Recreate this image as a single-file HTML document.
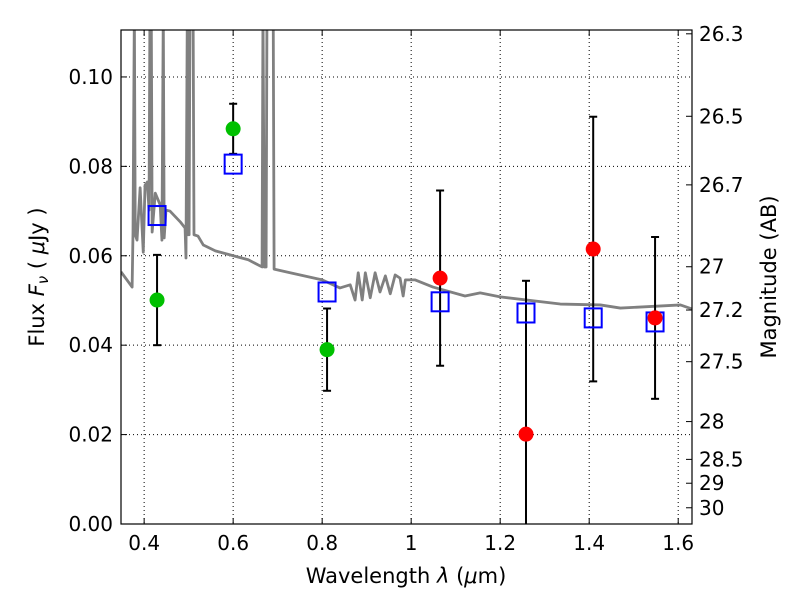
<!DOCTYPE html>
<html><head><meta charset="utf-8">
<style>
body{margin:0;background:#fff;}
svg text{font-family:"DejaVu Sans","Liberation Sans",sans-serif;fill:#000;}
</style></head>
<body>
<svg id="chart" width="800" height="600" xmlns="http://www.w3.org/2000/svg"></svg>
<script>
const xTicks=[0.4,0.6,0.8,1.0,1.2,1.4,1.6];
const xTickLabels=["0.4","0.6","0.8","1","1.2","1.4","1.6"];
const yTicks=[0,0.02,0.04,0.06,0.08,0.10];
const yTickLabels=["0.00","0.02","0.04","0.06","0.08","0.10"];
const magTicks=[26.3,26.5,26.7,27,27.2,27.5,28,28.5,29,30];
const magLabels=["26.3","26.5","26.7","27","27.2","27.5","28","28.5","29","30"];
const specWave=[0.348,0.373,0.375,0.378,0.380,0.384,0.391,0.398,0.402,0.407,0.411,0.413,0.416,0.418,0.425,0.436,0.440,0.443,0.445,0.449,0.458,0.481,0.492,0.494,0.497,0.499,0.501,0.503,0.510,0.512,0.521,0.533,0.560,0.593,0.634,0.665,0.667,0.670,0.674,0.676,0.690,0.692,0.728,0.800,0.840,0.863,0.874,0.881,0.890,0.897,0.908,0.919,0.930,0.942,0.953,0.964,0.975,0.982,0.987,1.009,1.049,1.121,1.155,1.200,1.335,1.425,1.470,1.605,1.631];
const specFlux=[0.0564,0.0530,0.0653,0.115,0.0647,0.0635,0.0752,0.0608,0.0758,0.0765,0.0702,0.115,0.115,0.0653,0.0740,0.0714,0.0635,0.115,0.0640,0.0702,0.0700,0.0676,0.0662,0.0595,0.115,0.0647,0.0647,0.115,0.115,0.0647,0.0644,0.0624,0.0611,0.0602,0.0591,0.0575,0.115,0.0575,0.0575,0.115,0.115,0.0570,0.0562,0.0546,0.0528,0.0535,0.0501,0.0562,0.0501,0.0562,0.0506,0.0562,0.0519,0.0555,0.0515,0.0557,0.0550,0.0510,0.0546,0.0546,0.0530,0.0510,0.0517,0.0508,0.0492,0.0490,0.0483,0.0490,0.0481];
const greenWave=[0.429,0.600,0.811];
const greenFlux=[0.0501,0.0884,0.0390];
const greenErr=[0.0101,0.0056,0.0092];
const redWave=[1.065,1.258,1.409,1.548];
const redFlux=[0.0550,0.0201,0.0615,0.0461];
const redErr=[0.0196,0.0343,0.0296,0.0181];
const modelWave=[0.429,0.600,0.811,1.065,1.258,1.409,1.548];
const modelFlux=[0.0690,0.0805,0.0519,0.0497,0.0472,0.0461,0.0452];

const L=121,R=692,T=30,B=524,x0=0.348,x1=1.631,y0=0,y1=0.1105;
const sx=v=>L+(v-x0)/(x1-x0)*(R-L);
const sy=v=>B-(v-y0)/(y1-y0)*(B-T);
const svg=document.getElementById('chart');
const NS="http://www.w3.org/2000/svg";
function mk(t,a,p){const e=document.createElementNS(NS,t);for(const k in a)e.setAttribute(k,a[k]);(p||svg).appendChild(e);return e;}

const defs=mk('defs',{});
const cp=mk('clipPath',{id:'clip'},defs);mk('rect',{x:L,y:T,width:R-L,height:B-T},cp);

xTicks.forEach(v=>{const g=mk('line',{x1:sx(v),x2:sx(v),y1:T,y2:B,stroke:'#000','stroke-dasharray':'1,3','stroke-width':1});

});
yTicks.forEach(v=>{const g=mk('line',{x1:L,x2:R,y1:sy(v),y2:sy(v),stroke:'#000','stroke-dasharray':'1,3','stroke-width':1});

});

const sp=mk('polyline',{points:specWave.map((w,i)=>sx(w)+','+sy(specFlux[i])).join(' '),fill:'none',stroke:'#808080','stroke-width':2.8,'clip-path':'url(#clip)','stroke-linejoin':'round'});



function errbars(w,f,e,name){
 w.forEach((v,i)=>{const g=mk('g',{'clip-path':'url(#clip)'});
 
 
 const X=sx(v),a=sy(f[i]+e[i]),b=sy(f[i]-e[i]);
 mk('line',{x1:X,x2:X,y1:a,y2:b,stroke:'#000','stroke-width':2},g);
 mk('line',{x1:X-4,x2:X+4,y1:a,y2:a,stroke:'#000','stroke-width':2},g);
 mk('line',{x1:X-4,x2:X+4,y1:b,y2:b,stroke:'#000','stroke-width':2},g);});
}
errbars(greenWave,greenFlux,greenErr,'green-error-bar');
errbars(redWave,redFlux,redErr,'red-error-bar');

modelWave.forEach((v,i)=>{const r=mk('rect',{x:sx(v)-8.5,y:sy(modelFlux[i])-9.5,width:17,height:19,fill:'none',stroke:'#0000ff','stroke-width':2});

});
greenWave.forEach((v,i)=>{const c=mk('circle',{cx:sx(v),cy:sy(greenFlux[i]),r:7.5,fill:'#00c000'});

});
redWave.forEach((v,i)=>{const c=mk('circle',{cx:sx(v),cy:sy(redFlux[i]),r:7.5,fill:'#ff0000'});

});

const fr=mk('rect',{x:L,y:T,width:R-L,height:B-T,fill:'none',stroke:'#000','stroke-width':1.2});



xTicks.forEach((v,i)=>{const X=sx(v);
 mk('line',{x1:X,x2:X,y1:B,y2:B-6,stroke:'#000'});mk('line',{x1:X,x2:X,y1:T,y2:T+6,stroke:'#000'});
 const t=mk('text',{x:X,y:B+26,'text-anchor':'middle','font-size':20});t.textContent=xTickLabels[i];
 
 });
yTicks.forEach((v,i)=>{const Y=sy(v);
 mk('line',{x1:L,x2:L+6,y1:Y,y2:Y,stroke:'#000'});
 const t=mk('text',{x:L-8,y:Y+7,'text-anchor':'end','font-size':20});t.textContent=yTickLabels[i];
 
 });
magTicks.forEach((m,i)=>{const Y=sy(Math.pow(10,(23.9-m)/2.5));
 mk('line',{x1:R,x2:R-6,y1:Y,y2:Y,stroke:'#000'});
 const t=mk('text',{x:R+7,y:Y+7,'font-size':20});t.textContent=magLabels[i];
 
 });
</script>
<svg width="800" height="600" style="position:absolute;left:0;top:0">
<text x="406" y="583" text-anchor="middle" font-size="21" style="font-family:'DejaVu Sans',sans-serif">Wavelength  <tspan font-style="italic">λ</tspan> (<tspan font-style="italic">μ</tspan>m)</text>
<text transform="translate(44,277) rotate(-90)" text-anchor="middle" font-size="21" style="font-family:'DejaVu Sans',sans-serif">Flux  <tspan font-style="italic">F<tspan font-size="15" dy="4">ν</tspan></tspan><tspan dy="-4">  ( </tspan><tspan font-style="italic">μ</tspan>Jy )</text>
<text transform="translate(776,277) rotate(-90)" text-anchor="middle" font-size="21" style="font-family:'DejaVu Sans',sans-serif">Magnitude (AB)</text>
</svg>
</body></html>
